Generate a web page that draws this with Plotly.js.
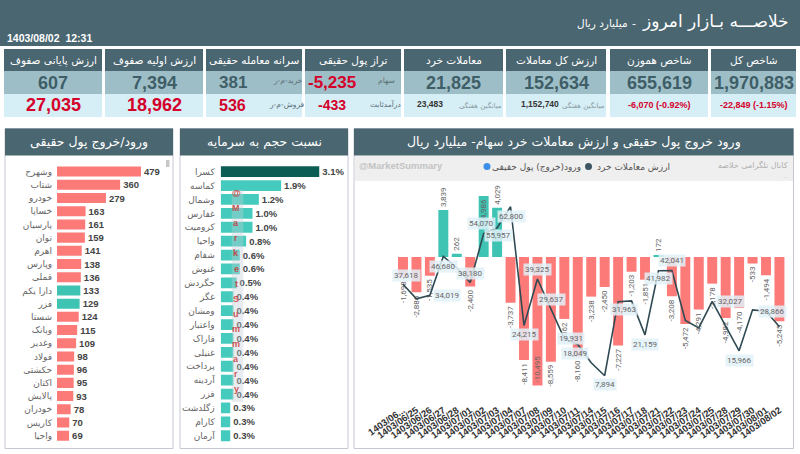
<!DOCTYPE html>
<html><head><meta charset="utf-8">
<script src="https://cdn.plot.ly/plotly-3.0.1.min.js"></script>
<style>html,body{margin:0;padding:0;background:#fff;overflow:hidden}#c{width:800px;height:454px}</style>
</head><body><div id="c"></div>
<script>
// ---------- DATA ----------
const flowNames = ['وشهرح','شتاب','خودرو','خساپا','پارسیان','توان','اهرم','وپارس','قملی','دارا یکم','فزر','شستا','وبانک','وغدیر','فولاد','حکشتی','اکتان','پالایش','خودران','کاریس','واحیا'];
const flowValues = [479,360,279,163,161,159,141,138,136,133,129,124,115,109,98,96,95,93,78,70,69];
const flowKind = ['out','out','out','out','out','out','out','out','out','in','in','out','out','out','out','out','out','out','out','out','out'];

const volNames = ['کسرا','کماسه','وشمال','غفارس','کرومیت','واحیا','شفام','غنوش','حگردش','غگز','ومشان','واعتبار','فاراک','غنیلی','پرداخت','آردینه','فزر','زگلدشت','کارام','آرمان'];
const volRatio = [3.1,1.9,1.2,1.0,1.0,0.8,0.6,0.6,0.5,0.4,0.4,0.4,0.4,0.4,0.4,0.4,0.4,0.3,0.3,0.3];

const dateLabels = ['1403/06...','1403/06/25','1403/06/26','1403/06/27','1403/06/28','1403/07/01','1403/07/02','1403/07/03','1403/07/04','1403/07/07','1403/07/08','1403/07/09','1403/07/10','1403/07/11','1403/07/14','1403/07/15','1403/07/16','1403/07/17','1403/07/18','1403/07/21','1403/07/22','1403/07/23','1403/07/24','1403/07/25','1403/07/28','1403/07/29','1403/07/30','1403/08/01','1403/08/02'];
const realMoneyFlow = [-1698,-2886,-1535,3839,262,-2400,4986,4029,-3737,-8411,-10495,-8559,-5062,-8160,-3238,-2450,-7227,-1203,-1851,172,-3208,-5472,-4291,-2178,-4982,-4170,-533,-1494,-5245];
const retailValue = [37618,32900,34019,46680,42900,38180,54070,55957,62800,24215,39325,29637,19931,18049,12100,7894,31963,32200,21159,41982,42041,25870,23420,32027,23900,15966,29300,28866,23800];
const retailLabelled = [1,0,1,1,0,1,1,1,1,1,1,1,1,1,0,1,1,0,1,1,1,0,0,1,0,1,0,1,0];

const tileTitles = ['شاخص کل','شاخص هموزن','ارزش کل معاملات','معاملات خرد','تراز پول حقیقی','سرانه معامله حقیقی','ارزش اولیه صفوف','ارزش پایانی صفوف'];
const tileMain = ['1,970,883','655,619','152,634','21,825','-5,235','381','7,394','607'];
const tileMainNote = ['','','','','سهام','خرید-م-ر','',''];
const tileSub = ['-22,849 (-1.15%)','-6,070 (-0.92%)','1,152,740','23,483','-433','536','18,962','27,035'];
const tileSubNote = ['','','میانگین هفتگی','میانگین هفتگی','درآمدثابت','فروش-م-ر','',''];

const pageTitle = 'خلاصـــه بـازار امروز';
const pageUnit = 'میلیارد ریال';
const stamp = '1403/08/02  12:31';
const panel1Title = 'ورود/خروج پول حقیقی';
const panel2Title = 'نسبت حجم به سرمایه';
const panel3Title = 'ورود خروج پول حقیقی و ارزش معاملات خرد سهام- میلیارد ریال';
const legendFlow = 'ورود(خروج) پول حقیقی';
const legendRetail = 'ارزش معاملات خرد';
const brandLeft = '@MarketSummary';
const brandRight = 'کانال تلگرامی خلاصه';
const watermark = '@MarketSummary';

// ---------- STYLE / LAYOUT ----------
const W = 800, H = 454;
const X = p => p / W, Y = p => 1 - p / H;
const FA = 'DejaVu Sans';
const FN = 'Liberation Sans, Arial, sans-serif';
const DARK = '#4a6670', MID = '#9ebec7', LIGHT = '#d6eef6';
const RED = '#d4002a', VAL = '#3f5e68';
const BAR_RED = '#fc7b79', BAR_TEAL = '#3fc3b2';
const fmt = v => (v < 0 ? '-' : '') + Math.abs(v).toLocaleString('en-US');

const shapes = [], ann = [];
function rect(x0, y0, x1, y1, fill, lc, layer) {
  shapes.push({type:'rect', xref:'paper', yref:'paper', x0:X(x0), x1:X(x1), y0:Y(y1), y1:Y(y0),
    fillcolor:fill, line:{width: lc ? 1 : 0, color: lc || 'rgba(0,0,0,0)'}, layer: layer || 'below'});
}
function txt(x, y, text, size, color, o) {
  o = o || {};
  ann.push(Object.assign({xref:'paper', yref:'paper', x:X(x), y:Y(y), text:text, showarrow:false,
    xanchor:o.xa || 'center', yanchor:'middle', font:{family:o.f || FA, size:size, color:color}}, o.extra || {}));
}

// header band
rect(0, 0, 800, 46, DARK);
txt(791, 21, pageTitle, 17, '#fff', {xa:'right'});
txt(638, 24, '-', 11, '#fff', {xa:'right'});
txt(630, 24, pageUnit, 10.5, '#fff', {xa:'right'});
txt(5, 38, '<b>' + stamp + '</b>', 10.5, '#fff', {xa:'left', f:FN});

// tiles
const tileX = [[711,796],[610,708],[506,606],[404,503],[305,401],[206,302],[105,203],[4,102]];
tileX.forEach((t, i) => {
  const [a, b] = t, w = b - a, cx = (a + b) / 2;
  rect(a, 49, b, 71, DARK);
  rect(a, 71, b, 94, MID);
  rect(a, 94, b, 117, LIGHT);
  txt(cx, 60, tileTitles[i], 10.5, '#fff');
  if (tileMainNote[i]) {
    txt(a + w * 0.28, 82.5, '<b>' + tileMain[i] + '</b>', 17, i === 4 ? RED : VAL, {f:FN});
    txt(a + w * 0.85, 81, tileMainNote[i], 7.5, '#5c6f76');
  } else {
    txt(cx, 82.5, '<b>' + tileMain[i] + '</b>', 18, VAL, {f:FN});
  }
  if (i <= 1) {
    txt(cx, 105, '<b>' + tileSub[i] + '</b>', 9, RED, {f:FN});
  } else if (i <= 3) {
    txt(a + w * (i === 2 ? 0.34 : 0.26), 104.5, '<b>' + tileSub[i] + '</b>', 8.5, '#333', {f:FN});
    txt(a + w * 0.77, 105, tileSubNote[i], 7, '#8a9aa0');
  } else if (i <= 5) {
    txt(a + w * 0.28, 105, '<b>' + tileSub[i] + '</b>', i === 4 ? 14 : 16, RED, {f:FN});
    txt(a + w * 0.84, 104.5, tileSubNote[i], 7.5, '#5c6f76');
  } else {
    txt(cx, 105, '<b>' + tileSub[i] + '</b>', 18, RED, {f:FN});
  }
});

// panels
const PB = '#c4c8d4';
[[5,173],[180,348],[354,793.5]].forEach(p => {
  rect(p[0], 128.5, p[1], 448.5, '#fff', PB);
  rect(p[0], 128.5, p[1], 155.5, DARK);
});
txt(89, 142, panel1Title, 12.5, '#fff');
txt(264, 142, panel2Title, 12.5, '#fff');
txt(574, 142, panel3Title, 12.5, '#fff');
rect(166, 160, 169.5, 167, '#c8c8c8');

// right panel legend strip
rect(355, 156, 793, 181, '#efefef');
txt(357, 166, '<b>' + brandLeft + '</b>', 9.5, '#c3c3c3', {xa:'left', f:FN});
txt(790, 165, brandRight, 8, '#b0b0b0', {xa:'right'});
txt(786, 175, '...', 6, '#c0c0c0');
shapes.push({type:'circle', xref:'paper', yref:'paper', x0:X(483.5), x1:X(490.5), y0:Y(170), y1:Y(163), fillcolor:'#3b8fe8', line:{width:0}});
txt(583, 166.5, legendFlow, 9, '#555', {xa:'right'});
shapes.push({type:'circle', xref:'paper', yref:'paper', x0:X(585), x1:X(592), y0:Y(170), y1:Y(163), fillcolor:'#3d5560', line:{width:0}});
txt(595, 166.5, legendRetail, 9, '#555', {xa:'left'});

// watermark in middle panel
rect(231.7, 190, 243.3, 402, 'rgba(195,205,215,0.38)', null, 'above');
watermark.split('').forEach((ch, k) => {
  txt(236, 193 + k * 15.1, '<b>' + ch + '</b>', 9, 'rgba(200,50,50,0.85)', {f:FN});
});

// line labels
const labelShift = {0:[3,9],2:[17,0],3:[0,-10],5:[0,9],6:[-2,10],7:[1,-8],8:[1,-10],9:[0,-9],10:[0,10],11:[1,9],12:[7,0],13:[-3,-9],15:[0,-9],16:[6,-8],18:[0,-10],19:[0,-8],20:[0,10],23:[18,0],25:[0,-10],27:[6,0]};
retailValue.forEach((v, i) => {
  if (!retailLabelled[i]) return;
  const s = labelShift[i] || [0, 0];
  ann.push({xref:'x3', yref:'y4', x:dateLabels[i], y:v, text:fmt(v), showarrow:false,
    xshift:s[0], yshift:s[1], font:{family:'Roboto', size:8, color:'#666'},
    bgcolor:'rgba(226,241,248,0.85)', borderpad:1});
});

// ---------- TRACES ----------
const traces = [
  {type:'bar', orientation:'h', x:flowValues, y:flowNames, xaxis:'x', yaxis:'y', width:0.76,
   marker:{color:flowKind.map(k => k === 'in' ? BAR_TEAL : BAR_RED)},
   text:flowValues.map(String), textposition:'outside', cliponaxis:false, constraintext:'none',
   textfont:{family:FN, size:9.5, color:'#444', weight:'bold'}, hoverinfo:'none'},
  {type:'bar', orientation:'h', x:volRatio, y:volNames, xaxis:'x2', yaxis:'y2', width:0.78,
   marker:{color:volRatio.map((v, i) => i === 0 ? '#0c5d54' : '#44cbbd')},
   text:volRatio.map(v => v.toFixed(1) + '%'), textposition:'outside', cliponaxis:false, constraintext:'none',
   textfont:{family:FN, size:9.5, color:'#444', weight:'bold'}, hoverinfo:'none'},
  {type:'bar', x:dateLabels, y:realMoneyFlow, xaxis:'x3', yaxis:'y3', width:0.74,
   marker:{color:realMoneyFlow.map(v => v >= 0 ? BAR_TEAL : BAR_RED)},
   text:realMoneyFlow.map(fmt), textangle:-90,
   textposition:realMoneyFlow.map(v => (v > 4500 || v < -10000) ? 'inside' : 'outside'),
   insidetextanchor:'end', cliponaxis:false, constraintext:'none',
   textfont:{family:'Roboto', size:8, color:'#666'}, hoverinfo:'none'},
  {type:'scatter', mode:'lines', x:dateLabels, y:retailValue, xaxis:'x3', yaxis:'y4',
   line:{color:'#2f4a53', width:1.6}, hoverinfo:'none'}
];

const layout = {
  width:W, height:H, margin:{l:0, r:0, t:0, b:0}, showlegend:false,
  paper_bgcolor:'#fff', plot_bgcolor:'rgba(0,0,0,0)',
  xaxis:{domain:[X(57), X(165)], range:[0, 616], visible:false, fixedrange:true},
  yaxis:{domain:[Y(442.3), Y(165)], anchor:'x', type:'category', autorange:'reversed', showgrid:false, zeroline:false,
         ticks:'', ticklabelstandoff:4, tickfont:{family:FA, size:9, color:'#666'}},
  xaxis2:{domain:[X(220.7), X(345)], range:[0, 3.91], visible:false, anchor:'y2'},
  yaxis2:{domain:[Y(442.7), Y(164.7)], anchor:'x2', type:'category', autorange:'reversed', showgrid:false, zeroline:false,
          ticks:'', ticklabelstandoff:5, tickfont:{family:FA, size:9, color:'#666'}},
  xaxis3:{domain:[X(391.5), X(786.5)], anchor:'y3', type:'category', tickangle:-35, ticks:'', showgrid:false,
          showline:false, zeroline:false, ticklabelstandoff:2, tickfont:{family:FN, size:9.5, color:'#333', weight:'bold'}},
  yaxis3:{domain:[Y(400), Y(183)], anchor:'x3', range:[-11683, 6046], visible:false},
  yaxis4:{overlaying:'y3', anchor:'x3', range:[0, 70525], visible:false},
  shapes:shapes, annotations:ann
};
Plotly.newPlot('c', traces, layout, {displayModeBar:false, staticPlot:true});
</script></body></html>
